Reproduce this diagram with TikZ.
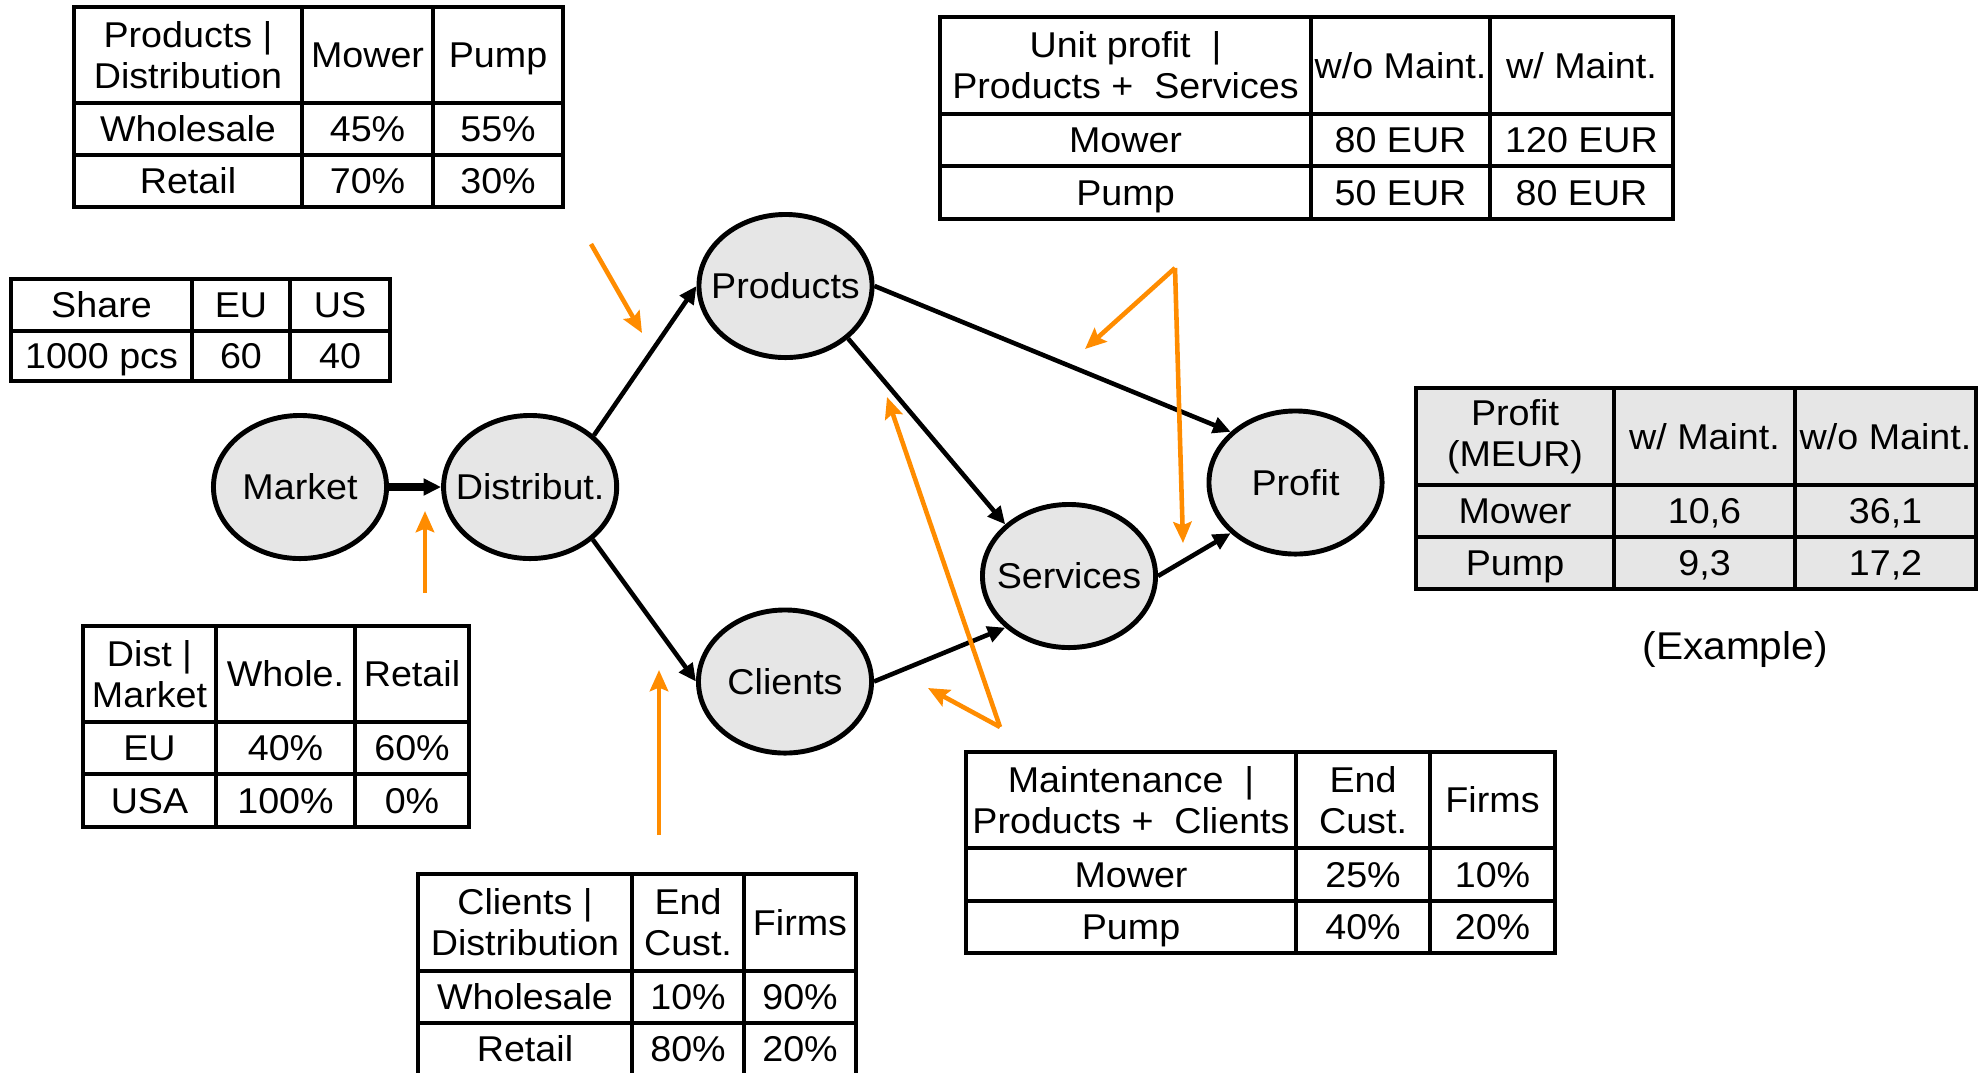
\documentclass[tikz,border=0pt]{standalone}
\usepackage{fontspec}
\setmainfont{Liberation Sans}[FakeStretch=1.05]
\usetikzlibrary{shapes.geometric,arrows.meta}
\definecolor{nodegray}{HTML}{E6E6E6}
\definecolor{hintorange}{HTML}{FF8C00}

\begin{document}
\begin{tikzpicture}[x=0.01cm, y=-0.01cm, font=\fontsize{10.2}{11.7}\selectfont, node distance=23mm,
  main/.style = {draw, ellipse, fill=nodegray, line width=1.4pt, minimum width=17.3mm, minimum height=14.3mm, inner xsep=-2mm, inner ysep=0pt},
  link/.style = {-{Triangle[length=5pt,width=4.6pt]}, line width=1.3pt},
  hint/.style = {-{Stealth[length=6pt,width=5.2pt,inset=1pt]}, hintorange, line width=1.3pt},
  grid/.style = {line width=1pt},
  cell/.style = {inner sep=0pt, text height=7.3pt, text depth=0pt},
  head/.style = {inner sep=0pt, align=center}]
    \useasboundingbox (0,0) rectangle (1986,1072);

    % chain of nodes
    \node[main] (market) at (300,487) {Market};
    \node[main] (distrib) [right of=market] {Distribut.};
    \node[main] (products) at (785.5,286) {Products};
    \node[main] (clients) at (785,681.5) {Clients};
    \node[main] (services) at (1069,576) {Services};
    \node[main] (profit) at (1295.5,482.5) {Profit};
    \draw[link, line width=2.4pt] (market) -- (distrib);
    \draw[link] (distrib.39) -- (products.west);
    \draw[link] (distrib.-40) -- (clients.west);
    \draw[link] (products.east) -- (profit.142);
    \draw[link] (products.-40) -- (services.141);
    \draw[link] (clients.east) -- (services.-141);
    \draw[link] (services.east) -- (profit.-142);

    % products per distribution
    \draw[grid] (74,7) rectangle (563,207) (302,7) -- (302,207) (433,7) -- (433,207) (74,103) -- (563,103) (74,155) -- (563,155);
    \node[head] (pdh) at (188,55) {Products |\\Distribution};
    \node[cell] (pdm) at (367.5,55) {Mower};
    \node[cell] (pdp) at (498,55) {Pump};
    \node[cell] (pdw) at (188,129) {Wholesale};
    \node[cell] (pdwm) at (367.5,129) {45\%};
    \node[cell] (pdwp) at (498,129) {55\%};
    \node[cell] (pdr) at (188,181) {Retail};
    \node[cell] (pdrm) at (367.5,181) {70\%};
    \node[cell] (pdrp) at (498,181) {30\%};

    % market share
    \draw[grid] (11,279) rectangle (390,381) (192,279) -- (192,381) (290,279) -- (290,381) (11,331) -- (390,331);
    \node[cell] (msh) at (101.5,305) {Share};
    \node[cell] (mse) at (241,305) {EU};
    \node[cell] (msu) at (340,305) {US};
    \node[cell] (msp) at (101.5,356) {1000 pcs};
    \node[cell] (mspe) at (241,356) {60};
    \node[cell] (mspu) at (340,356) {40};

    % distribution per market
    \draw[grid] (83,626) rectangle (469,827) (216,626) -- (216,827) (355,626) -- (355,827) (83,722) -- (469,722) (83,774) -- (469,774);
    \node[head] (dmh) at (149.5,674) {Dist |\\Market};
    \node[cell] (dmw) at (285.5,674) {Whole.};
    \node[cell] (dmr) at (412,674) {Retail};
    \node[cell] (dme) at (149.5,748) {EU};
    \node[cell] (dmew) at (285.5,748) {40\%};
    \node[cell] (dmer) at (412,748) {60\%};
    \node[cell] (dmu) at (149.5,800.5) {USA};
    \node[cell] (dmuw) at (285.5,800.5) {100\%};
    \node[cell] (dmur) at (412,800.5) {0\%};

    % clients per distribution
    \draw[grid] (418,874) rectangle (856,1075) (632,874) -- (632,1075) (744,874) -- (744,1075) (418,971) -- (856,971) (418,1023) -- (856,1023);
    \node[head] (cdh) at (525,922.5) {Clients |\\Distribution};
    \node[head] (cde) at (688,922.5) {End\\Cust.};
    \node[cell] (cdf) at (800,922.5) {Firms};
    \node[cell] (cdw) at (525,997) {Wholesale};
    \node[cell] (cdwe) at (688,997) {10\%};
    \node[cell] (cdwf) at (800,997) {90\%};
    \node[cell] (cdr) at (525,1049) {Retail};
    \node[cell] (cdre) at (688,1049) {80\%};
    \node[cell] (cdrf) at (800,1049) {20\%};

    % unit profit
    \draw[grid] (940,17) rectangle (1673,219) (1311,17) -- (1311,219) (1490,17) -- (1490,219) (940,114) -- (1673,114) (940,166) -- (1673,166);
    \node[head] (uph) at (1125.5,65.5) {Unit profit~~|\\Products +~~Services};
    \node[cell] (upo) at (1400.5,65.5) {w/o Maint.};
    \node[cell] (upw) at (1581.5,65.5) {w/ Maint.};
    \node[cell] (upm) at (1125.5,140) {Mower};
    \node[cell] (upmo) at (1400.5,140) {80 EUR};
    \node[cell] (upmw) at (1581.5,140) {120 EUR};
    \node[cell] (upp) at (1125.5,192.5) {Pump};
    \node[cell] (uppo) at (1400.5,192.5) {50 EUR};
    \node[cell] (uppw) at (1581.5,192.5) {80 EUR};

    % maintenance
    \draw[grid] (966,752) rectangle (1555,953) (1296,752) -- (1296,953) (1430,752) -- (1430,953) (966,848) -- (1555,848) (966,901) -- (1555,901);
    \node[head] (mth) at (1131,800) {Maintenance~~|\\Products +~~Clients};
    \node[head] (mte) at (1363,800) {End\\Cust.};
    \node[cell] (mtf) at (1492.5,800) {Firms};
    \node[cell] (mtm) at (1131,874.5) {Mower};
    \node[cell] (mtme) at (1363,874.5) {25\%};
    \node[cell] (mtmf) at (1492.5,874.5) {10\%};
    \node[cell] (mtp) at (1131,927) {Pump};
    \node[cell] (mtpe) at (1363,927) {40\%};
    \node[cell] (mtpf) at (1492.5,927) {20\%};

    % profit result
    \filldraw[grid, fill=nodegray] (1416,388) rectangle (1976,589);
    \draw[grid] (1614,388) -- (1614,589) (1795,388) -- (1795,589) (1416,485) -- (1976,485) (1416,537) -- (1976,537);
    \node[head] (prh) at (1515,436.5) {Profit\\(MEUR)};
    \node[cell] (prw) at (1704.5,436.5) {w/ Maint.};
    \node[cell] (pro) at (1885.5,436.5) {w/o Maint.};
    \node[cell] (prm) at (1515,511) {Mower};
    \node[cell] (prmw) at (1704.5,511) {10,6};
    \node[cell] (prmo) at (1885.5,511) {36,1};
    \node[cell] (prp) at (1515,563) {Pump};
    \node[cell] (prpw) at (1704.5,563) {9,3};
    \node[cell] (prpo) at (1885.5,563) {17,2};
    \node[font=\fontsize{11}{13}\selectfont] (example) at (1735,649) {(Example)};

    % orange hints
    \coordinate (h1a) at (591,244);
    \coordinate (h1b) at (642,333);
    \coordinate (h2a) at (425,593);
    \coordinate (h2b) at (425,511);
    \coordinate (h3a) at (659,835);
    \coordinate (h3b) at (659,670);
    \coordinate (h4) at (1175,268);
    \coordinate (h4a) at (1183,543);
    \coordinate (h4b) at (1085,349);
    \coordinate (h5) at (1000,727);
    \coordinate (h5a) at (887,397);
    \coordinate (h5b) at (928,688);
    \draw[hint] (h1a) -- (h1b);
    \draw[hint] (h2a) -- (h2b);
    \draw[hint] (h3a) -- (h3b);
    \draw[hint] (h4) -- (h4a);
    \draw[hint] (h4) -- (h4b);
    \draw[hint] (h5) -- (h5a);
    \draw[hint] (h5) -- (h5b);
\end{tikzpicture}
\end{document}
